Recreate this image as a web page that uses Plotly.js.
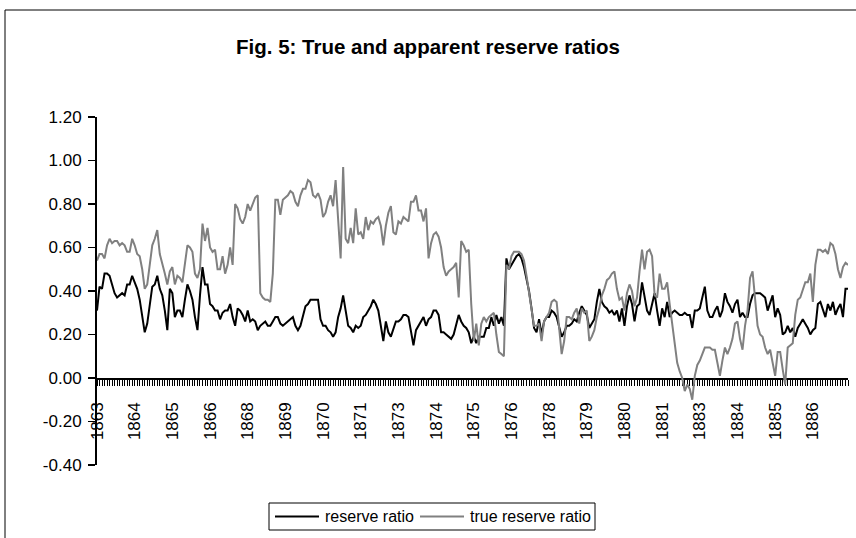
<!DOCTYPE html>
<html>
<head>
<meta charset="utf-8">
<script src="https://cdn.plot.ly/plotly-3.0.1.min.js"></script>
<style>html,body{margin:0;padding:0;background:#fff;}#chart{width:856px;height:538px;}</style>
</head>
<body>
<div id="chart"></div>
<script>
// Monthly observations, January 1863 onward
const reserveRatio = [
0.31,0.42,0.41,0.48,0.48,0.47,0.43,0.39,0.37,0.38,
0.39,0.38,0.43,0.43,0.47,0.44,0.41,0.36,0.28,0.21,
0.25,0.34,0.42,0.43,0.47,0.41,0.38,0.31,0.22,0.41,
0.39,0.28,0.31,0.31,0.28,0.36,0.43,0.40,0.36,0.28,
0.22,0.38,0.51,0.43,0.43,0.34,0.33,0.31,0.31,0.27,
0.30,0.31,0.31,0.34,0.28,0.24,0.32,0.31,0.29,0.26,
0.31,0.26,0.27,0.26,0.22,0.24,0.25,0.26,0.24,0.24,
0.26,0.28,0.28,0.25,0.24,0.25,0.26,0.27,0.28,0.24,
0.22,0.24,0.29,0.33,0.34,0.36,0.36,0.36,0.36,0.27,
0.24,0.24,0.22,0.21,0.19,0.21,0.28,0.32,0.38,0.31,
0.24,0.23,0.21,0.24,0.23,0.24,0.28,0.29,0.31,0.33,
0.36,0.34,0.31,0.24,0.17,0.26,0.21,0.19,0.23,0.26,
0.26,0.27,0.29,0.29,0.28,0.21,0.15,0.22,0.24,0.26,
0.28,0.24,0.27,0.28,0.31,0.31,0.29,0.21,0.21,0.20,
0.19,0.18,0.20,0.25,0.29,0.26,0.24,0.23,0.21,0.16,
0.19,0.16,0.19,0.19,0.19,0.23,0.23,0.28,0.24,0.29,
0.25,0.28,0.24,0.55,0.50,0.52,0.54,0.56,0.57,0.55,
0.51,0.46,0.40,0.32,0.23,0.21,0.27,0.20,0.26,0.28,
0.28,0.31,0.30,0.28,0.24,0.19,0.21,0.24,0.24,0.25,
0.27,0.26,0.30,0.33,0.31,0.29,0.23,0.25,0.27,0.35,
0.41,0.35,0.33,0.32,0.30,0.31,0.29,0.31,0.26,0.32,
0.24,0.33,0.38,0.34,0.26,0.33,0.34,0.44,0.37,0.31,
0.29,0.34,0.39,0.31,0.24,0.32,0.28,0.35,0.28,0.30,
0.31,0.30,0.29,0.29,0.30,0.29,0.29,0.23,0.31,0.31,
0.32,0.37,0.42,0.31,0.28,0.28,0.31,0.33,0.28,0.31,
0.39,0.35,0.33,0.30,0.34,0.36,0.28,0.30,0.28,0.28,
0.34,0.38,0.39,0.39,0.39,0.38,0.37,0.31,0.35,0.38,
0.28,0.32,0.29,0.20,0.21,0.24,0.21,0.23,0.19,0.23,
0.25,0.27,0.25,0.23,0.20,0.22,0.23,0.34,0.35,0.31,
0.28,0.34,0.31,0.35,0.29,0.32,0.34,0.28,0.41,0.41
];
const trueReserveRatio = [
0.54,0.57,0.57,0.55,0.61,0.64,0.62,0.63,0.63,0.61,
0.62,0.61,0.58,0.58,0.64,0.61,0.57,0.56,0.50,0.41,
0.43,0.51,0.61,0.64,0.68,0.57,0.53,0.48,0.43,0.49,
0.51,0.43,0.47,0.46,0.44,0.53,0.61,0.60,0.58,0.48,
0.46,0.50,0.71,0.63,0.69,0.60,0.58,0.59,0.50,0.50,
0.56,0.48,0.52,0.60,0.52,0.80,0.78,0.73,0.71,0.74,
0.80,0.77,0.80,0.83,0.84,0.39,0.37,0.36,0.36,0.35,
0.48,0.82,0.82,0.75,0.82,0.83,0.84,0.86,0.85,0.81,
0.79,0.84,0.87,0.87,0.91,0.90,0.84,0.83,0.85,0.82,
0.74,0.76,0.81,0.84,0.79,0.91,0.74,0.55,0.97,0.64,
0.62,0.69,0.62,0.78,0.66,0.67,0.64,0.74,0.68,0.72,
0.71,0.73,0.74,0.70,0.61,0.70,0.76,0.79,0.67,0.66,
0.72,0.71,0.74,0.73,0.72,0.81,0.81,0.84,0.77,0.77,
0.72,0.78,0.55,0.62,0.66,0.67,0.65,0.60,0.51,0.47,
0.49,0.50,0.51,0.53,0.37,0.63,0.61,0.58,0.59,0.34,
0.17,0.25,0.15,0.25,0.28,0.26,0.28,0.29,0.30,0.20,
0.12,0.11,0.10,0.52,0.50,0.56,0.58,0.58,0.58,0.57,
0.54,0.47,0.40,0.33,0.24,0.24,0.25,0.17,0.26,0.28,
0.30,0.35,0.36,0.35,0.22,0.11,0.17,0.28,0.28,0.27,
0.30,0.32,0.25,0.32,0.30,0.31,0.17,0.19,0.22,0.28,
0.32,0.38,0.41,0.45,0.46,0.48,0.49,0.41,0.36,0.37,
0.31,0.39,0.43,0.40,0.33,0.37,0.49,0.59,0.50,0.58,
0.59,0.56,0.38,0.37,0.48,0.41,0.41,0.44,0.34,0.24,
0.17,0.07,0.03,0.00,-0.06,-0.03,-0.05,-0.10,0.01,0.06,
0.08,0.11,0.14,0.14,0.14,0.13,0.13,0.07,0.01,0.08,
0.14,0.11,0.14,0.18,0.25,0.26,0.18,0.13,0.24,0.31,
0.46,0.49,0.38,0.24,0.20,0.19,0.14,0.11,0.13,0.07,
0.01,0.12,0.12,0.04,-0.03,0.14,0.15,0.16,0.29,0.36,
0.37,0.41,0.44,0.44,0.48,0.35,0.52,0.59,0.59,0.58,
0.59,0.57,0.62,0.61,0.57,0.50,0.46,0.51,0.53,0.52
];
const tickLabels = ['1863','1864','1865','1866','1868','1869','1870','1871','1873','1874',
                    '1875','1876','1878','1879','1880','1881','1883','1884','1885','1886'];
const labelEvery = 15; // one category label every 15 months
const yTickValues = [-0.4,-0.2,0,0.2,0.4,0.6,0.8,1.0,1.2];
const seriesNames = ['reserve ratio','true reserve ratio'];
const seriesColors = ['#000000','#808080'];

const idx = reserveRatio.map((_, i) => i);
const FONT = 'Liberation Sans, Arial, sans-serif';

const W = 856, H = 538;
const M = {l: 97, r: 8, t: 117, b: 73};
const pw = W - M.l - M.r, ph = H - M.t - M.b;
const px = x => (x - M.l) / pw;
const py = y => (H - M.b - y) / ph;

const traces = seriesNames.map((name, k) => ({
  x: idx, y: k === 0 ? reserveRatio : trueReserveRatio, name: name,
  type: 'scatter', mode: 'lines', line: {color: seriesColors[k], width: 2}, showlegend: false
}));

// Legend (drawn as Excel-style box with long line samples)
const LEG = {left: 269, top: 503, bottom: 530, fs: 16};
const legMid = (LEG.top + LEG.bottom) / 2;
const sampleLen = 44;
const textW = [89, 121];
const legShapes = [], legAnn = [];
let cx = LEG.left + 6;
seriesNames.forEach((name, k) => {
  legShapes.push({type: 'line', xref: 'paper', yref: 'paper', x0: px(cx), x1: px(cx + sampleLen),
                  y0: py(legMid), y1: py(legMid), line: {color: seriesColors[k], width: 2}});
  cx += sampleLen + 4;
  legAnn.push({xref: 'paper', yref: 'paper', x: px(cx), y: py(legMid), xanchor: 'left', yanchor: 'middle',
               text: name, showarrow: false, font: {family: FONT, size: LEG.fs, color: '#000'}});
  cx += textW[k] + 8;
});
const legRight = cx - 2;
legShapes.unshift({type: 'rect', xref: 'paper', yref: 'paper', x0: px(LEG.left), x1: px(legRight),
                   y0: py(LEG.bottom), y1: py(LEG.top), line: {color: '#000', width: 1}, fillcolor: '#fff'});

const layout = {
  width: W, height: H,
  margin: M,
  paper_bgcolor: '#ffffff', plot_bgcolor: '#ffffff',
  font: {family: FONT, color: '#000', size: 17},
  title: {text: '<b>Fig. 5: True and apparent reserve ratios</b>', font: {family: FONT, size: 20.5, color: '#000'},
          x: 0.5, xref: 'container', xanchor: 'center', y: 1 - 47/H, yref: 'container', yanchor: 'middle'},
  showlegend: false,
  xaxis: {
    range: [0, reserveRatio.length - 1], anchor: 'free', position: (0 - (-0.4)) / 1.6,
    showline: true, linecolor: '#000', linewidth: 1.5, showgrid: false, zeroline: false,
    tickmode: 'array', tickvals: tickLabels.map((_, k) => k * labelEvery), ticktext: tickLabels,
    ticks: 'outside', ticklen: 6, tickwidth: 1, tickcolor: '#000', tickangle: -90,
    ticklabelstandoff: 10,
    minor: {tickmode: 'linear', tick0: 0, dtick: 1, ticks: 'outside', ticklen: 6, tickwidth: 1, tickcolor: '#000', showgrid: false},
    tickfont: {family: FONT, size: 17, color: '#000'}, layer: 'below traces', fixedrange: true
  },
  yaxis: {
    range: [-0.4, 1.2], showline: true, linecolor: '#000', linewidth: 2, showgrid: false, zeroline: false,
    tickmode: 'array', tickvals: yTickValues, ticktext: yTickValues.map(v => v.toFixed(2)),
    ticks: 'outside', ticklen: 7, tickwidth: 1.5, tickcolor: '#000',
    ticklabelstandoff: 3,
    tickfont: {family: FONT, size: 17, color: '#000'}, fixedrange: true
  },
  shapes: [
    {type: 'rect', xref: 'paper', yref: 'paper', x0: px(5), x1: px(860), y0: py(545), y1: py(10),
     line: {color: '#000', width: 1}, fillcolor: 'rgba(0,0,0,0)', layer: 'below'}
  ].concat(legShapes),
  annotations: legAnn
};

Plotly.newPlot('chart', traces, layout, {staticPlot: true, displayModeBar: false});
</script>
</body>
</html>
